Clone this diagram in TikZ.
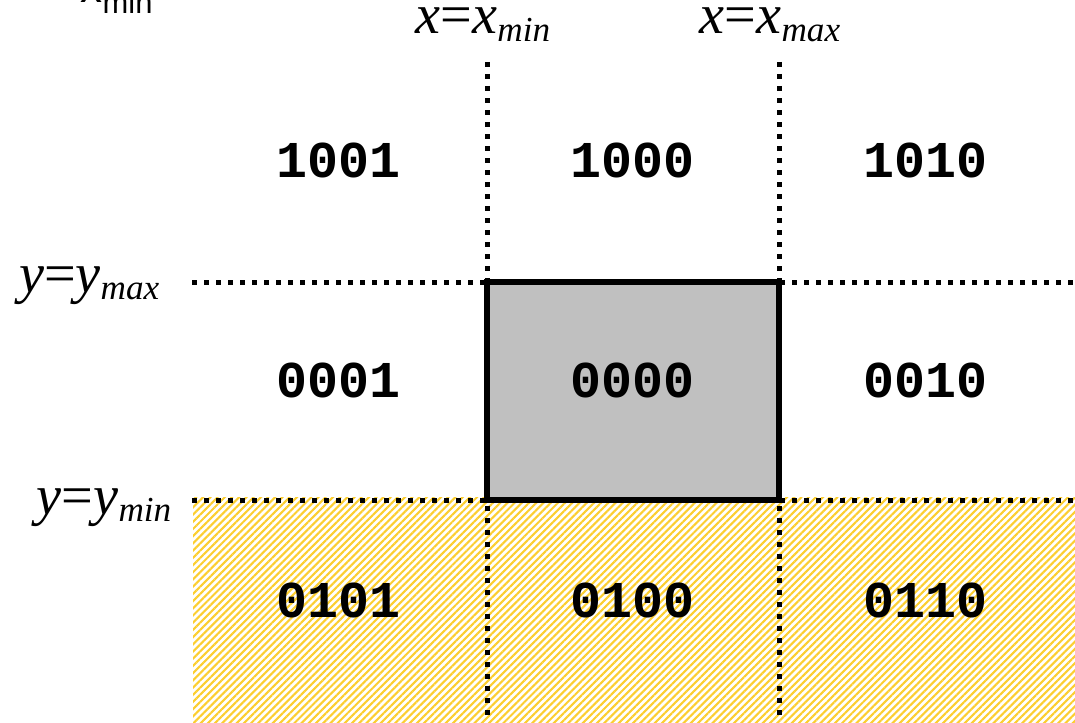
\documentclass[tikz,border=0pt]{standalone}
\usepackage{fontspec}
\setmainfont{Liberation Serif}
\newfontfamily\codefont{Liberation Mono}
\newfontfamily\cutfont{Liberation Sans}
\usetikzlibrary{positioning, patterns.meta, calc}
\definecolor{hatchyellow}{RGB}{252,206,48}
\definecolor{wingray}{RGB}{192,192,192}
\newcommand{\bnd}[2]{\textit{#1}=\textit{#1}\raisebox{-0.3ex}{\fontsize{10}{12}\selectfont\textit{#2}}}

\begin{document}
\begin{tikzpicture}[
        code/.style={font=\codefont\bfseries\fontsize{14.7}{18}\selectfont, inner sep=0pt},
        eq/.style={font=\fontsize{16}{18}\selectfont, inner sep=0pt},
        bound/.style={line width=0.05cm, dash pattern=on 0.05cm off 0.07cm},
        window/.style={draw, line width=0.055cm, fill=wingray, minimum width=2.92cm, minimum height=2.18cm, inner sep=0pt},
        outside/.style={pattern={Lines[angle=45, distance=1.45pt, line width=0.6pt]}, pattern color=hatchyellow},
    ]
        \clip (0,0) rectangle (10.75,-7.22);
        \useasboundingbox (0,0) rectangle (10.75,-7.22);

        % --- cut-off caption at the top ---
        \node[anchor=base west, font=\cutfont\fontsize{12.5}{14}\selectfont, inner sep=0pt] (cut) at (0.80,-0.03)
            {x\raisebox{-0.11cm}{\fontsize{8.8}{10}\selectfont min}};

        % --- region below y_min ---
        \fill[outside] (1.93,-4.97) rectangle (10.75,-7.22);

        % --- boundary lines ---
        \coordinate (xminT) at (4.87,-0.62);
        \coordinate (xminB) at (4.87,-7.22);
        \coordinate (xmaxT) at (7.79,-0.62);
        \coordinate (xmaxB) at (7.79,-7.22);
        \coordinate (ymaxL) at (1.92,-2.82);
        \coordinate (ymaxR) at (10.75,-2.82);
        \coordinate (yminL) at (1.92,-5.00);
        \coordinate (yminR) at (10.75,-5.00);
        \draw[bound] (xminT) -- (xminB);
        \draw[bound] (xmaxT) -- (xmaxB);
        \draw[bound] (ymaxL) -- (ymaxR);
        \draw[bound] (yminL) -- (yminR);

        % --- clip window ---
        \node[window] (win) at (6.33,-3.91) {};

        % --- boundary labels ---
        \node[eq, anchor=base] (lxmin) at (4.83,-0.34) {\bnd{x}{min}};
        \node[eq, anchor=base] (lxmax) at (7.70,-0.34) {\bnd{x}{max}};
        \node[eq, anchor=base east] (lymax) at (1.60,-2.92) {\bnd{y}{max}};
        \node[eq, anchor=base east] (lymin) at (1.72,-5.14) {\bnd{y}{min}};

        % --- region codes ---
        \node[code] (c1001) at (3.39,-1.60) {1001};
        \node[code] (c1000) at (6.32,-1.60) {1000};
        \node[code] (c1010) at (9.25,-1.60) {1010};
        \node[code] (c0001) at (3.39,-3.80) {0001};
        \node[code] (c0000) at (6.32,-3.80) {0000};
        \node[code] (c0010) at (9.25,-3.80) {0010};
        \node[code] (c0101) at (3.39,-6.00) {0101};
        \node[code] (c0100) at (6.32,-6.00) {0100};
        \node[code] (c0110) at (9.25,-6.00) {0110};

    \end{tikzpicture}
\end{document}
